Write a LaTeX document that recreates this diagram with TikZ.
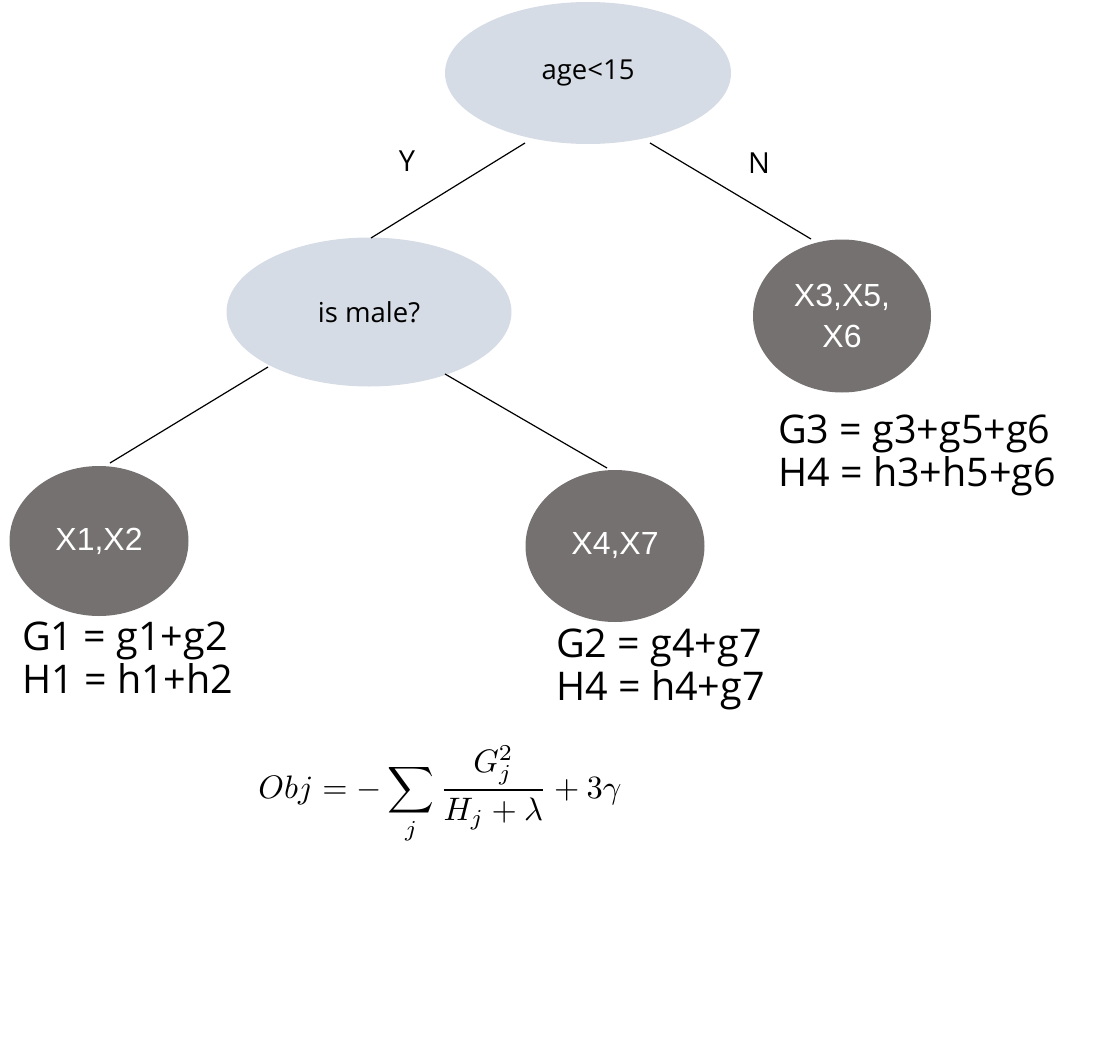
\documentclass[tikz,border=0pt]{standalone}
\usepackage{fontspec}
\usepackage{amsmath}
\setmainfont{Open Sans}
\newfontfamily\arialf{Liberation Sans}
\usetikzlibrary{shapes.geometric}
\begin{document}
\begin{tikzpicture}[x=1pt,y=-1pt,
  dec/.style={ellipse,fill=ellgray,inner sep=0pt,font=\fontsize{27.5}{32}\selectfont},
  leaf/.style={ellipse,fill=leafgray,inner sep=0pt,text=white,align=center,font=\arialf\fontsize{32}{41}\selectfont},
  edge/.style={draw=black,line width=1.2pt},
  lab/.style={font=\fontsize{29}{34}\selectfont},
  stat/.style={anchor=north west,align=left,inner sep=0pt,font=\fontsize{39.5}{43}\selectfont}]
\definecolor{ellgray}{RGB}{214,220,229}
\definecolor{leafgray}{RGB}{118,113,113}
\useasboundingbox (0,0) rectangle (1104,1052);
\node[dec,minimum width=286,minimum height=142] (root) at (588,73) {age<15};
\node[dec,minimum width=285,minimum height=149] (male) at (369,312) {is male?};
\node[leaf,minimum width=178,minimum height=153] (r) at (842,316) {X3,X5,\\X6};
\node[leaf,minimum width=179,minimum height=150] (l1) at (99,541) {X1,X2};
\node[leaf,minimum width=179,minimum height=152] (l2) at (615,546) {X4,X7};
\coordinate (a1) at (525,143); \coordinate (a2) at (371,238);
\coordinate (b1) at (650,143); \coordinate (b2) at (811,239);
\coordinate (c1) at (268,367); \coordinate (c2) at (110,463);
\coordinate (d1) at (445,374); \coordinate (d2) at (607,468);
\draw[edge] (a1) -- (a2);
\draw[edge] (b1) -- (b2);
\draw[edge] (c1) -- (c2);
\draw[edge] (d1) -- (d2);
\node[lab] (Y) at (407,161) {Y};
\node[lab] (N) at (759,163) {N};
\node[stat] (s1) at (22,622) {G1 = g1+g2\\H1 = h1+h2};
\node[stat] (s2) at (556,629) {G2 = g4+g7\\H4 = h4+g7};
\node[stat] (s3) at (778,415) {G3 = g3+g5+g6\\H4 = h3+h5+g6};
\node[scale=3.25,transform shape,inner sep=0pt] (obj) at (440,795) {$\displaystyle Obj=-\sum_j\frac{G_j^2}{H_j+\lambda}+3\gamma$};
\end{tikzpicture}
\end{document}
